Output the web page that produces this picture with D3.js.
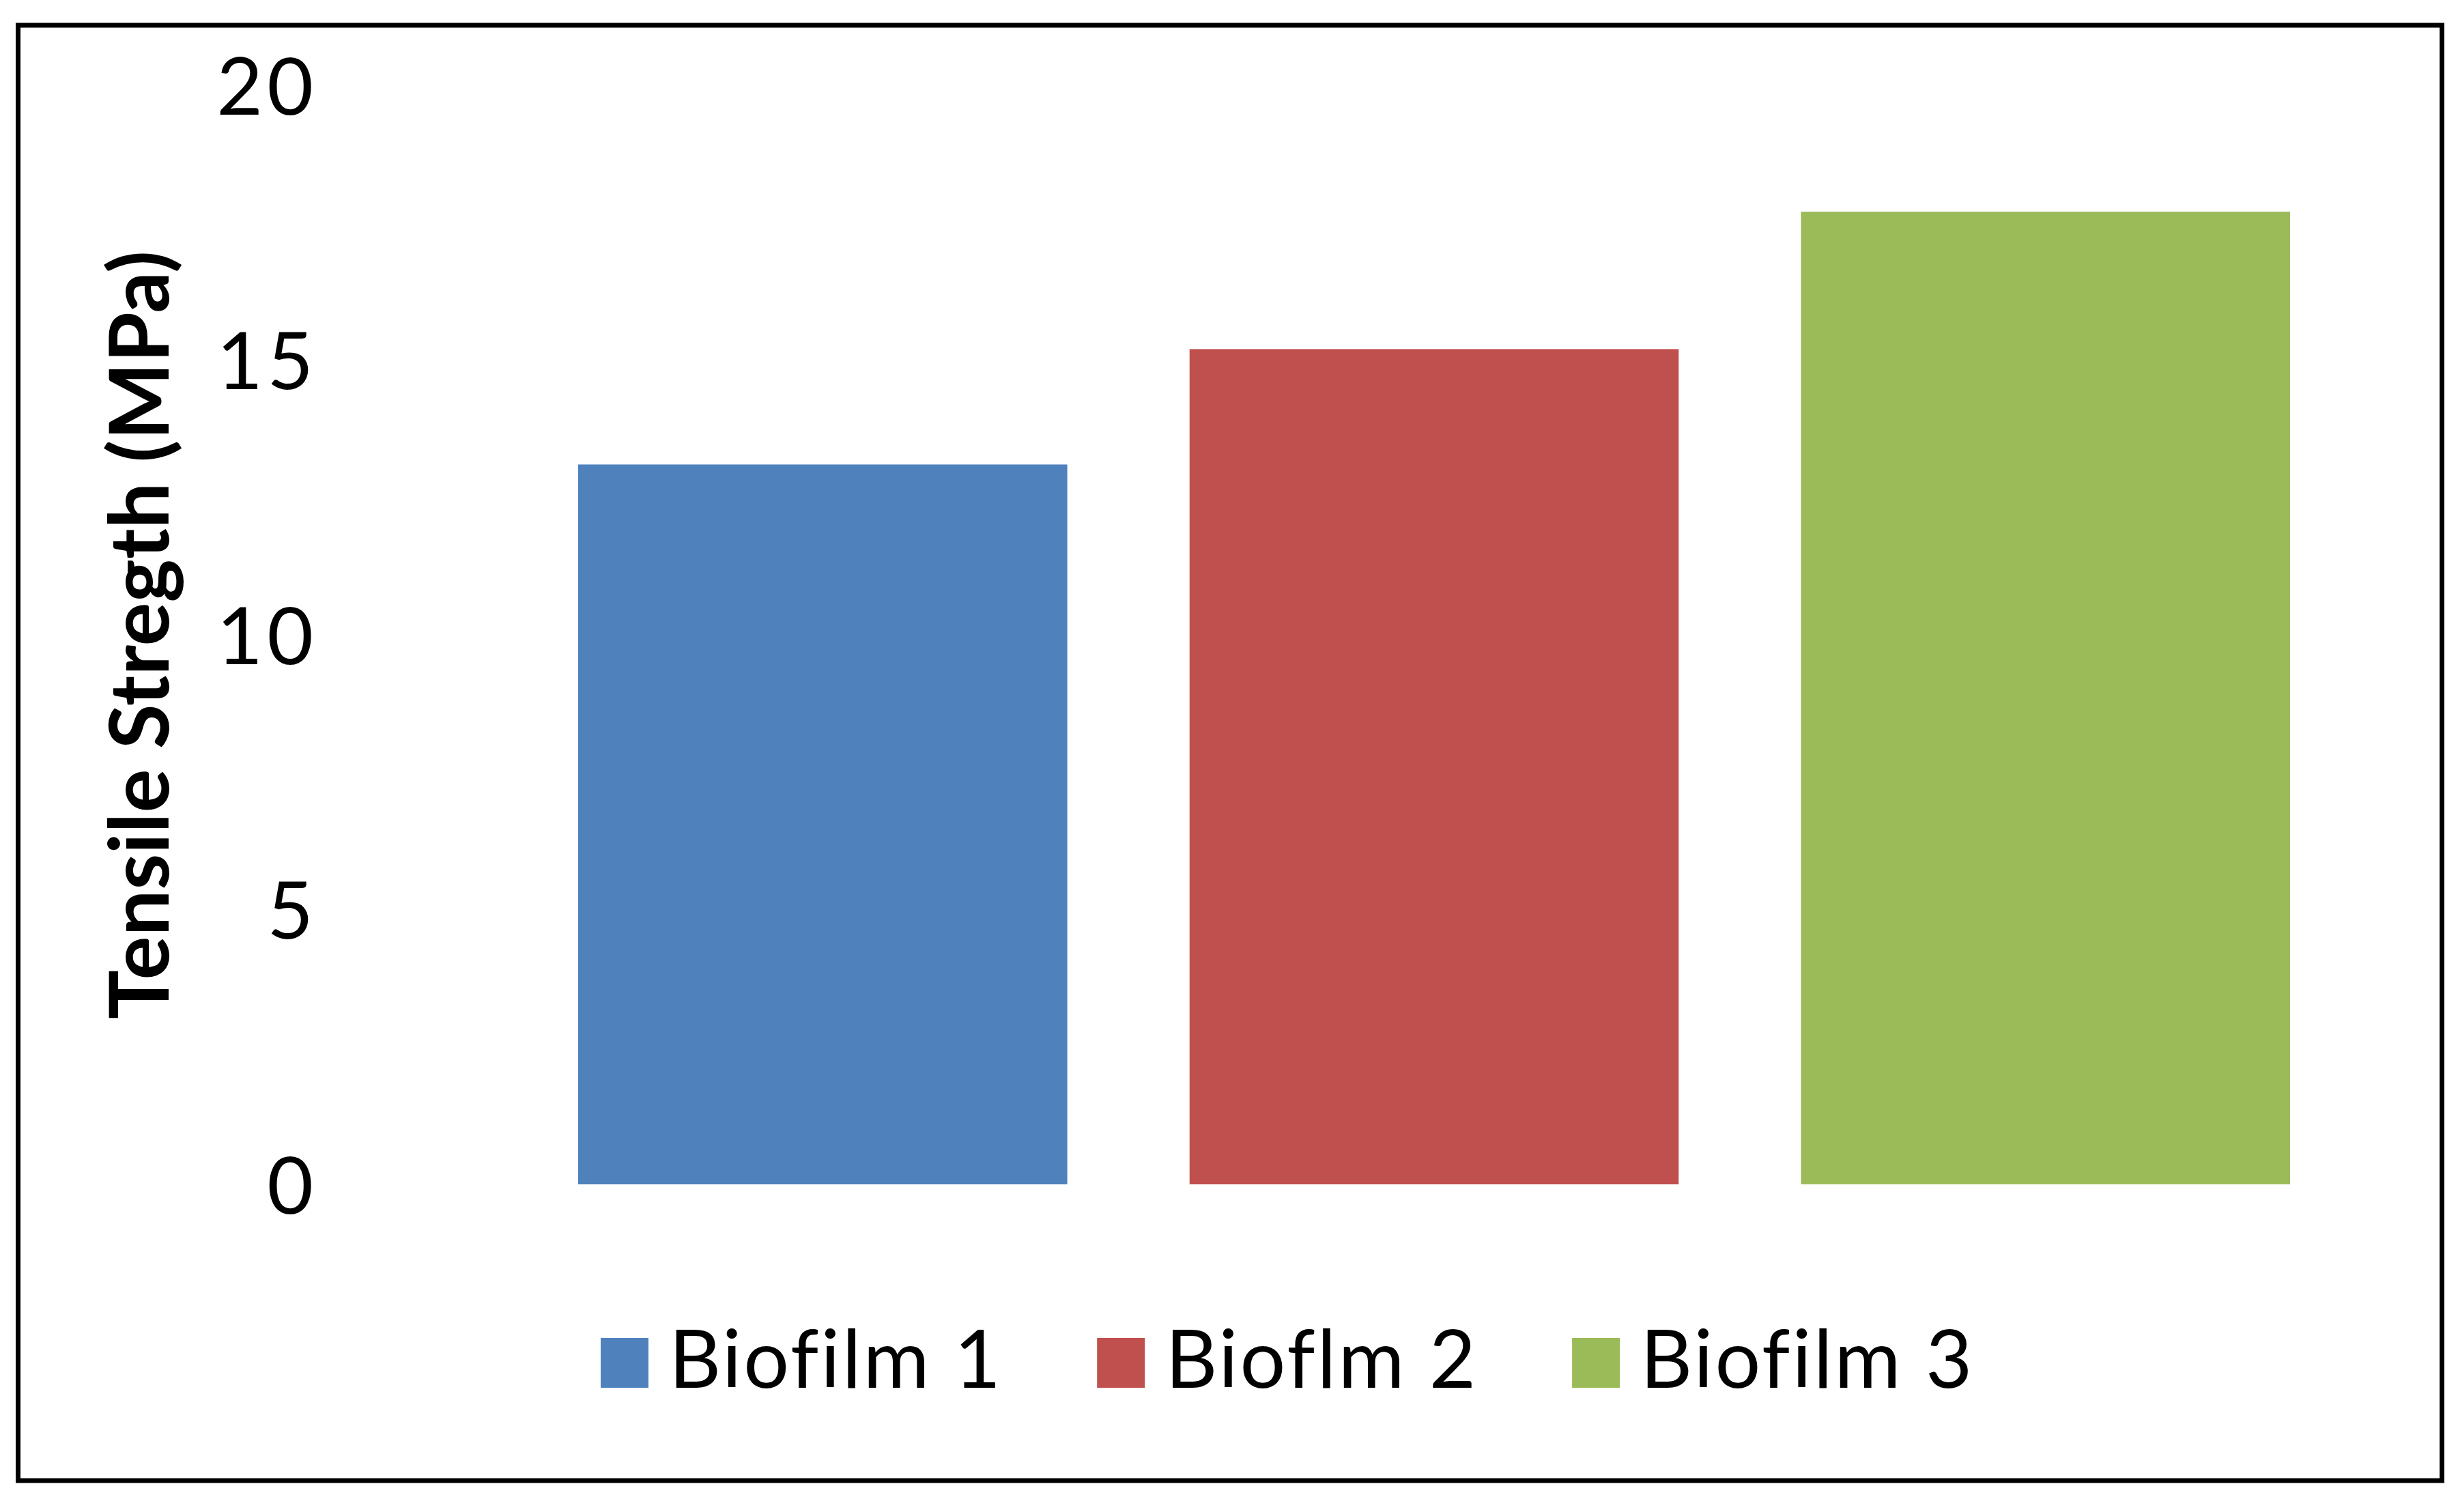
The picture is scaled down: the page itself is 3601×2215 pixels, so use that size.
<!DOCTYPE html>
<html>
<head>
<meta charset="utf-8">
<script src="https://cdn.jsdelivr.net/npm/d3@7"></script>
<style>
  body { margin: 0; background: #fff; }
  text { font-family: Lato, "Open Sans", sans-serif; fill: #000; font-variant-ligatures: none; }
</style>
</head>
<body>
<div id="chart"></div>
<script>
const categories = ["Biofilm 1", "Bioflm 2", "Biofilm 3"];
const values = [13.1, 15.2, 17.7];
const colors = ["#4F81BD", "#C0504D", "#9BBB59"];
const yTicks = [0, 5, 10, 15, 20];
const yTitle = "Tensile Stregth (MPa)";

const svgWidth = 3601;
const svgHeight = 2215;

const svg = d3.select("#chart")
  .append("svg")
  .attr("width", svgWidth)
  .attr("height", svgHeight);

// outer frame
svg.append("rect")
  .attr("x", 26.5)
  .attr("y", 37)
  .attr("width", 3577.5 - 26.5)
  .attr("height", 2169 - 37)
  .attr("fill", "#fff")
  .attr("stroke", "#000")
  .attr("stroke-width", 7);

// scales
const xScale = d3.scaleBand()
  .domain(categories)
  .range([847, 3355])
  .paddingInner(0.2)
  .paddingOuter(0);

const yScale = d3.scaleLinear()
  .domain([0, 20])
  .range([1735, 125]);

// y axis, labels only
const yAxis = d3.axisLeft(yScale)
  .tickValues(yTicks)
  .tickSize(0)
  .tickPadding(0);

const yAxisGroup = svg.append("g")
  .attr("transform", "translate(465,0)")
  .call(yAxis);

yAxisGroup.select(".domain").remove();
yAxisGroup.selectAll(".tick text")
  .attr("dy", "0.36em")
  .style("font-family", "Lato, sans-serif")
  .style("font-size", "117px")
  .style("letter-spacing", "6px")
  .attr("fill", "#000");

// y title
svg.append("text")
  .attr("transform", `translate(247, ${(yScale(0) + yScale(20)) / 2}) rotate(-90)`)
  .attr("text-anchor", "middle")
  .style("font-size", "120px")
  .style("font-weight", "bold")
  .text(yTitle);

// bars
svg.selectAll(".bar")
  .data(values)
  .enter()
  .append("rect")
  .attr("class", "bar")
  .attr("x", (d, i) => xScale(categories[i]))
  .attr("y", d => yScale(d))
  .attr("width", xScale.bandwidth())
  .attr("height", d => yScale(0) - yScale(d))
  .attr("fill", (d, i) => colors[i]);

// legend
const legend = svg.append("g")
  .attr("class", "legend");

let lx = 880;
categories.forEach((name, i) => {
  const item = legend.append("g").attr("transform", `translate(${lx},0)`);
  item.append("rect")
    .attr("x", 0)
    .attr("y", 1960)
    .attr("width", 70)
    .attr("height", 73)
    .attr("fill", colors[i]);
  const t = item.append("text")
    .attr("x", 100)
    .attr("y", 2033)
    .style("font-size", "118px")
    .style("letter-spacing", "3px")
    .text(name);
  lx += 100 + t.node().getComputedTextLength() + 138;
});
</script>
</body>
</html>
